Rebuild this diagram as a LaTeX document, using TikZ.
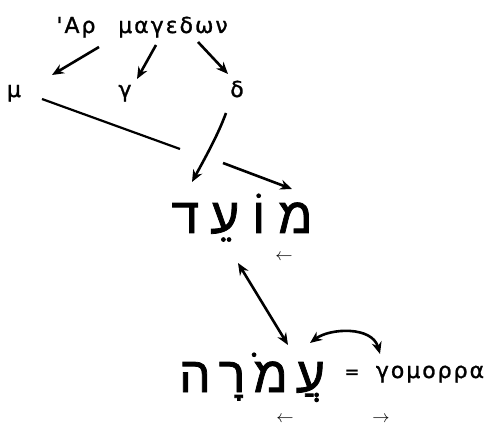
\documentclass[tikz,border=0pt]{standalone}
\usepackage{fontspec}
\usepackage{tikz}
\usetikzlibrary{arrows.meta}
\newfontfamily\grkfont{DejaVu Sans}[LetterSpace=9,FakeBold=1.2]
\newfontfamily\hebfont[Script=Hebrew,FakeBold=1.5]{Liberation Sans}
\TeXXeTstate=1
\newcommand{\hgap}[1]{\hspace{#1}}

\begin{document}
\begin{tikzpicture}[x=1pt,y=-1pt,
  grk/.style={inner sep=0pt,anchor=base,font=\grkfont\fontsize{22}{22}\selectfont},
  heb/.style={inner sep=0pt,anchor=base,font=\hebfont\fontsize{50}{50}\selectfont},
  tick/.style={inner sep=0pt,font=\fontsize{18}{18}\selectfont},
  conn/.style={line width=2.6pt,-{Stealth[length=12pt,width=10pt]}},
  bothconn/.style={line width=2.6pt,{Stealth[length=12pt,width=10pt]}-{Stealth[length=12pt,width=10pt]}}]
\useasboundingbox (0,0) rectangle (485,425);
% greek words
\node[grk] (har) at (76,33) {'Αρ};
\node[grk] (magedon) at (173,33) {μαγεδων};
\node[grk] (mu) at (14,97) {μ};
\node[grk] (gamma) at (125,97) {γ};
\node[grk] (delta) at (237,97) {δ};
% hebrew words
\node[heb] (moed) at (242,233) {\beginR מ\hgap{13pt}וֹ\hgap{13pt}עֵ\hgap{11pt}ד\endR};
\node[heb] (amora) at (252,392) {\beginR עֲ\hgap{8pt}מֹ\hgap{8pt}רָ\hgap{8pt}ה\endR};
\node[grk,font=\grkfont\fontsize{18}{18}\selectfont] (eq) at (352,378) {=};
\node[grk] (gomorra) at (430,378) {γομορρα};
% small marks
\node[tick] (mark1) at (284,257) {$\leftarrow$};
\node[tick] (mark2) at (285,419) {$\leftarrow$};
\node[tick] (mark3) at (381,419) {$\rightarrow$};
% arrow ends
\coordinate (harT) at (99,47);
\coordinate (muH) at (52,75);
\coordinate (gamT) at (156,45);
\coordinate (gamH) at (137,79);
\coordinate (delT) at (198,42);
\coordinate (delH) at (228,74);
\coordinate (muL) at (42,99);
\coordinate (muR) at (180,149);
\coordinate (dT) at (226,113);
\coordinate (dH) at (192,182);
\coordinate (mT) at (223,163);
\coordinate (mH) at (292,189);
\coordinate (moedE) at (238,263);
\coordinate (amoraE) at (288,345);
\coordinate (ayinE) at (310,343);
\coordinate (gomE) at (380,354);
% connectors
\draw[conn] (harT) -- (muH);
\draw[conn] (gamT) -- (gamH);
\draw[conn] (delT) -- (delH);
\draw[line width=2.2pt] (muL) -- (muR);
\draw[conn] (dT) .. controls (218,135) and (205,158) .. (dH);
\draw[conn] (mT) -- (mH);
\draw[bothconn] (moedE) -- (amoraE);
\draw[bothconn] (ayinE) .. controls (330,328) and (372,326) .. (gomE);
\end{tikzpicture}
\end{document}
